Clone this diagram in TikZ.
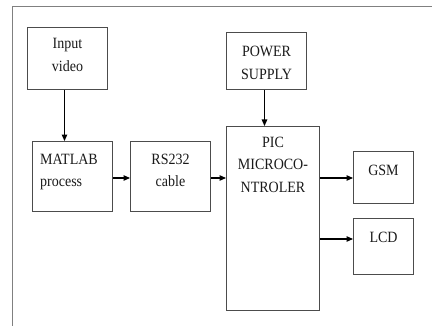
\documentclass[tikz,border=0pt]{standalone}
\usepackage{fontspec}
\setmainfont{Liberation Serif}
\usetikzlibrary{arrows.meta}
\newcommand\vs[1]{\scalebox{1}[1.12]{#1}}
\begin{document}
\begin{tikzpicture}[x=1pt,y=-1pt,
  blk/.style={draw=black!70, line width=1pt, inner sep=0pt, anchor=north west},
  lbl/.style={inner sep=0pt, font=\fontsize{14}{16}\selectfont, text=black!90},
  conn/.style={draw=black, line width=1.1pt, -{Triangle[length=6.5pt,width=5.5pt]}},
  frameline/.style={draw=black!50, line width=1pt}]
\useasboundingbox (0,0) rectangle (436,326);
\renewcommand\arraystretch{1.28}
% frame
\coordinate (f1) at (12,326);
\coordinate (f2) at (12,7);
\coordinate (f3) at (432,7);
\draw[frameline] (f1) -- (f2) -- (f3);
% boxes
\node[blk, minimum width=80pt, minimum height=62pt] (in) at (27,27) {};
\node[blk, minimum width=80pt, minimum height=70pt] (mat) at (32,141) {};
\node[blk, minimum width=80pt, minimum height=70pt] (rs) at (130,141) {};
\node[blk, minimum width=80pt, minimum height=57pt] (ps) at (226,32) {};
\node[blk, minimum width=93pt, minimum height=184pt] (pic) at (226,126) {};
\node[blk, minimum width=60pt, minimum height=52pt] (gsm) at (353,151) {};
\node[blk, minimum width=60pt, minimum height=56pt] (lcd) at (353,218) {};
% labels
\node[lbl, anchor=base] (inT) at ([yshift=-22pt]in.north) {\vs{\begin{tabular}[t]{@{}c@{}}Input\\video\end{tabular}}};
\node[lbl, anchor=base west] (matT) at ([xshift=8pt,yshift=-23pt]mat.north west) {\vs{\begin{tabular}[t]{@{}l@{}}MATLAB\\process\end{tabular}}};
\node[lbl, anchor=base] (rsT) at ([yshift=-23pt]rs.north) {\vs{\begin{tabular}[t]{@{}c@{}}RS232\\cable\end{tabular}}};
\node[lbl, anchor=base] (psT) at ([yshift=-25pt]ps.north) {\vs{\begin{tabular}[t]{@{}c@{}}POWER\\SUPPLY\end{tabular}}};
\node[lbl, anchor=base] (picT) at ([yshift=-21pt]pic.north) {\vs{\begin{tabular}[t]{@{}c@{}}PIC\\MICROCO-\\NTROLER\end{tabular}}};
\node[lbl, anchor=base] (gsmT) at ([yshift=-24pt]gsm.north) {\vs{GSM}};
\node[lbl, anchor=base] (lcdT) at ([yshift=-24pt]lcd.north) {\vs{LCD}};
% connectors
\draw[conn] ([xshift=-3pt]in.south) -- ([xshift=-8pt]mat.north);
\draw[conn] (mat.east |- 0,178) -- (rs.west |- 0,178);
\draw[conn] (rs.east |- 0,178) -- (pic.west |- 0,178);
\draw[conn] ([xshift=-2pt]ps.south) -- ([xshift=-2pt]ps.south |- pic.north);
\draw[conn] (pic.east |- 0,178) -- (gsm.west |- 0,178);
\draw[conn] (pic.east |- 0,239) -- (lcd.west |- 0,239);
\end{tikzpicture}
\end{document}
